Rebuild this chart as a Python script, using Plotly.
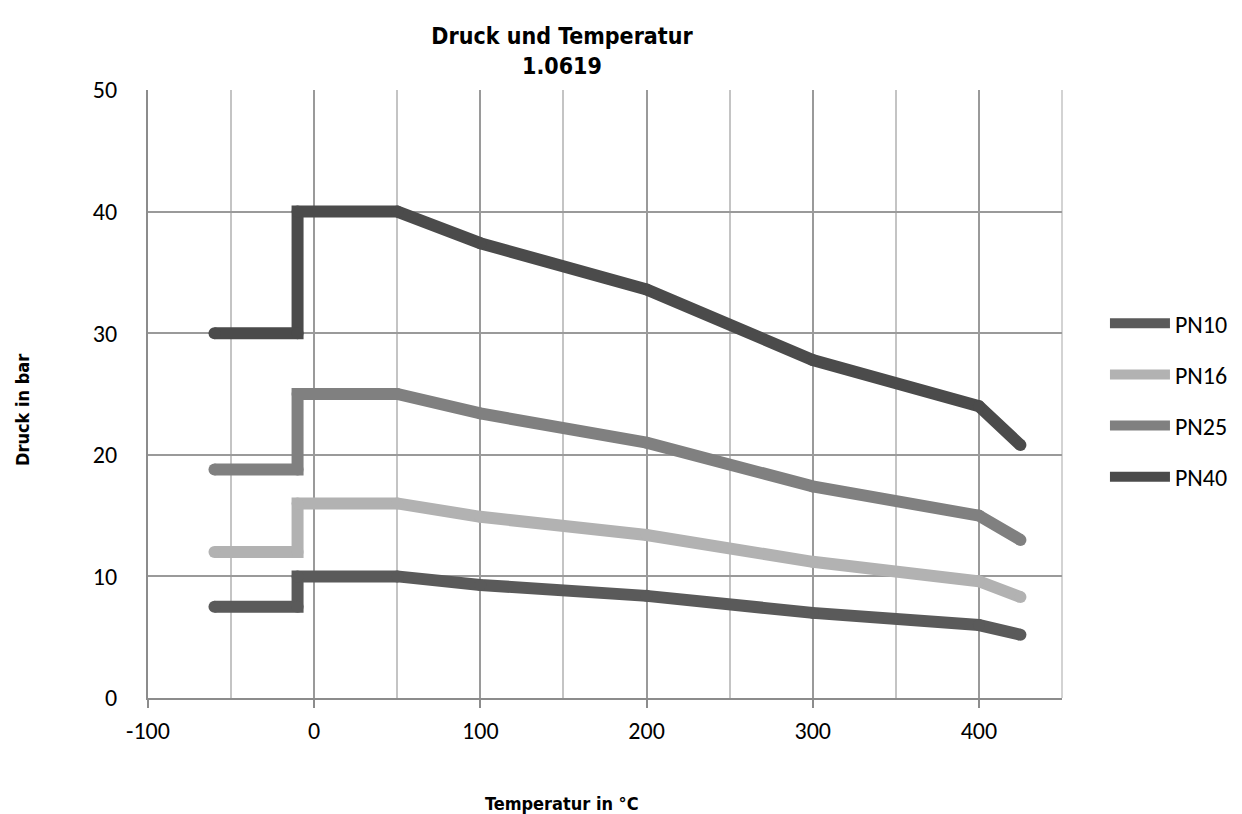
import plotly.graph_objects as go

temps = [-60, -10, -10, 50, 100, 200, 300, 400, 425]
series_names = ["PN10", "PN16", "PN25", "PN40"]
pn10 = [7.5, 7.5, 10, 10, 9.3, 8.4, 7.0, 6.0, 5.2]
pn16 = [12, 12, 16, 16, 14.9, 13.4, 11.2, 9.6, 8.3]
pn25 = [18.8, 18.8, 25, 25, 23.4, 21.0, 17.4, 15.0, 13.0]
pn40 = [30, 30, 40, 40, 37.4, 33.6, 27.8, 24.0, 20.8]
x_ticks = [-100, 0, 100, 200, 300, 400]
x_tick_text = ["-100", "0", "100", "200", "300", "400"]
colors = ["#5a5a5a", "#b2b2b2", "#808080", "#4b4b4b"]

title_font = "Liberation Sans Narrow, DejaVu Sans Condensed, Arial Narrow, sans-serif"
tick_font = "Carlito, Open Sans, Liberation Sans, sans-serif"

fig = go.Figure()
for name, vals, col in zip(series_names, [pn10, pn16, pn25, pn40], colors):
    fig.add_trace(go.Scatter(
        x=temps, y=vals, name=name, mode="lines",
        line=dict(color=col, width=12),
        legendgroup=name,
    ))
    # round caps / joins
    fig.add_trace(go.Scatter(
        x=temps, y=vals, mode="markers", showlegend=False, hoverinfo="skip",
        marker=dict(color=col, size=12, line=dict(width=0)),
        legendgroup=name,
    ))

fig.update_layout(
    width=1242, height=814,
    margin=dict(l=140, r=188, t=82, b=124),
    paper_bgcolor="white", plot_bgcolor="white",
    title=dict(text="<b>Druck und Temperatur<br>1.0619</b>", x=554 / 1242, xanchor="center",
               y=1 - 36 / 814, yanchor="middle",
               font=dict(family=title_font, size=23, color="black")),
    legend=dict(x=1.047, xanchor="left", y=0.49, yanchor="middle",
                traceorder="grouped", tracegroupgap=17, itemwidth=60,
                font=dict(family=tick_font, size=24, color="black")),
    showlegend=True,
    annotations=[
        dict(text="<b>Temperatur in °C</b>", xref="paper", yref="paper",
             x=(562 - 148) / 914, y=(698 - 803) / 608, showarrow=False,
             xanchor="center", yanchor="middle",
             font=dict(family=title_font, size=18, color="black")),
        dict(text="<b>Druck in bar</b>", xref="paper", yref="paper",
             x=(22 - 148) / 914, y=(698 - 410) / 608, showarrow=False, textangle=-90,
             xanchor="center", yanchor="middle",
             font=dict(family=title_font, size=18, color="black")),
    ],
)
fig.update_xaxes(
    range=[-100, 450], tickvals=x_ticks, ticktext=x_tick_text,
    showgrid=True, gridcolor="#9a9a9a", gridwidth=1.5,
    minor=dict(dtick=50, tick0=0, showgrid=True, gridcolor="#c4c4c4", gridwidth=1.5),
    showline=True, linecolor="#8c8c8c", linewidth=2,
    ticks="outside", ticklen=8, tickcolor="#8c8c8c", tickwidth=2,
    ticklabelstandoff=2,
    zeroline=False, automargin=False,
    tickfont=dict(family=tick_font, size=24, color="black"),
)
fig.update_yaxes(
    range=[0, 50], dtick=10,
    showgrid=True, gridcolor="#9a9a9a", gridwidth=1.5,
    showline=True, linecolor="#8c8c8c", linewidth=2,
    ticks="", ticklabelstandoff=24,
    zeroline=False, automargin=False,
    tickfont=dict(family=tick_font, size=24, color="black"),
)
fig.update_layout(shapes=[dict(type="line", xref="paper", yref="paper", x0=1, x1=1, y0=0, y1=1,
                               line=dict(color="#c4c4c4", width=1.5), layer="below")])

fig.write_html("out.html")
